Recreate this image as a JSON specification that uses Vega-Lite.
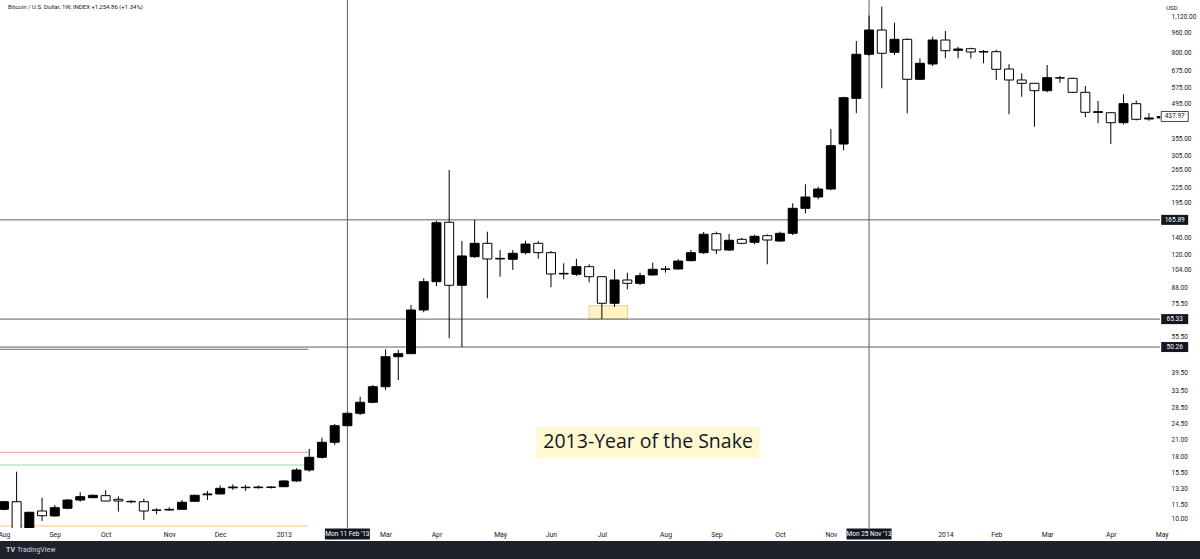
{
  "$schema": "https://vega.github.io/schema/vega-lite/v6.json",
  "width": 1200,
  "height": 559,
  "autosize": {"type": "none"},
  "padding": 0,
  "background": "#ffffff",
  "config": {"view": {"stroke": null}},
  "datasets": {
    "candles": [
      {"d":"2012-08-06","o":10.95,"h":11.85,"l":10.85,"c":11.76},
      {"d":"2012-08-13","o":11.76,"h":15.59,"l":7.9,"c":8.8},
      {"d":"2012-08-20","o":8.8,"h":10.7,"l":8.5,"c":10.65},
      {"d":"2012-08-27","o":10.78,"h":12.21,"l":9.81,"c":10.31},
      {"d":"2012-09-03","o":10.29,"h":11.41,"l":10.22,"c":11.12},
      {"d":"2012-09-10","o":11.06,"h":12.06,"l":10.95,"c":11.95},
      {"d":"2012-09-17","o":11.95,"h":12.85,"l":11.76,"c":12.33},
      {"d":"2012-09-24","o":12.21,"h":12.59,"l":12.18,"c":12.49},
      {"d":"2012-10-01","o":12.45,"h":13.09,"l":11.82,"c":11.84},
      {"d":"2012-10-08","o":12.03,"h":12.38,"l":10.71,"c":11.84},
      {"d":"2012-10-15","o":11.80,"h":11.95,"l":11.59,"c":11.75},
      {"d":"2012-10-22","o":11.76,"h":12.10,"l":9.91,"c":10.78},
      {"d":"2012-10-29","o":10.85,"h":11.06,"l":10.45,"c":10.88},
      {"d":"2012-11-05","o":10.88,"h":11.16,"l":10.78,"c":10.95},
      {"d":"2012-11-12","o":10.95,"h":11.95,"l":10.93,"c":11.70},
      {"d":"2012-11-19","o":11.81,"h":12.56,"l":11.73,"c":12.49},
      {"d":"2012-11-26","o":12.55,"h":13.01,"l":11.95,"c":12.65},
      {"d":"2012-12-03","o":12.65,"h":13.72,"l":12.60,"c":13.34},
      {"d":"2012-12-10","o":13.40,"h":13.85,"l":13.13,"c":13.50},
      {"d":"2012-12-17","o":13.47,"h":13.76,"l":13.01,"c":13.42},
      {"d":"2012-12-24","o":13.42,"h":13.70,"l":13.30,"c":13.50},
      {"d":"2012-12-31","o":13.50,"h":13.62,"l":13.30,"c":13.45},
      {"d":"2013-01-07","o":13.54,"h":14.42,"l":13.50,"c":14.29},
      {"d":"2013-01-14","o":14.29,"h":16.10,"l":14.20,"c":15.84},
      {"d":"2013-01-21","o":15.84,"h":19.30,"l":15.59,"c":17.85},
      {"d":"2013-01-28","o":17.85,"h":21.46,"l":17.65,"c":20.55},
      {"d":"2013-02-04","o":20.55,"h":24.40,"l":20.03,"c":24.01},
      {"d":"2013-02-11","o":24.01,"h":27.23,"l":23.93,"c":26.98},
      {"d":"2013-02-18","o":26.98,"h":31.53,"l":26.55,"c":29.92},
      {"d":"2013-02-25","o":29.92,"h":35.19,"l":29.64,"c":34.63},
      {"d":"2013-03-04","o":34.63,"h":49.20,"l":33.58,"c":45.90},
      {"d":"2013-03-11","o":45.90,"h":48.90,"l":36.89,"c":47.22},
      {"d":"2013-03-18","o":47.22,"h":74.60,"l":47.10,"c":71.16},
      {"d":"2013-03-25","o":71.16,"h":95.84,"l":69.64,"c":92.83},
      {"d":"2013-04-01","o":92.83,"h":164.6,"l":89.0,"c":161.5},
      {"d":"2013-04-08","o":162.2,"h":264.9,"l":54.56,"c":89.76},
      {"d":"2013-04-15","o":89.76,"h":136.0,"l":50.26,"c":118.2},
      {"d":"2013-04-22","o":117.4,"h":165.89,"l":116.0,"c":133.1},
      {"d":"2013-04-29","o":133.1,"h":148.5,"l":79.43,"c":114.9},
      {"d":"2013-05-06","o":114.9,"h":125.0,"l":97.29,"c":115.6},
      {"d":"2013-05-13","o":114.6,"h":125.0,"l":103.6,"c":121.2},
      {"d":"2013-05-20","o":121.9,"h":136.4,"l":120.0,"c":132.2},
      {"d":"2013-05-27","o":133.1,"h":136.0,"l":115.2,"c":121.9},
      {"d":"2013-06-03","o":121.9,"h":123.8,"l":88.08,"c":99.79},
      {"d":"2013-06-10","o":99.8,"h":110.3,"l":94.95,"c":100.4},
      {"d":"2013-06-17","o":99.5,"h":115.0,"l":98.0,"c":106.9},
      {"d":"2013-06-24","o":106.9,"h":109.3,"l":92.30,"c":97.29},
      {"d":"2013-07-01","o":97.29,"h":97.5,"l":65.33,"c":75.79},
      {"d":"2013-07-08","o":75.79,"h":104.3,"l":73.40,"c":94.32},
      {"d":"2013-07-15","o":94.32,"h":101.0,"l":86.44,"c":91.44},
      {"d":"2013-07-22","o":91.44,"h":101.0,"l":90.0,"c":98.2},
      {"d":"2013-07-29","o":98.86,"h":110.96,"l":98.2,"c":104.3},
      {"d":"2013-08-05","o":104.3,"h":107.6,"l":101.0,"c":104.6},
      {"d":"2013-08-12","o":104.6,"h":114.6,"l":104.0,"c":112.7},
      {"d":"2013-08-19","o":113.1,"h":125.0,"l":112.3,"c":121.9},
      {"d":"2013-08-26","o":121.9,"h":148.0,"l":120.4,"c":144.9},
      {"d":"2013-09-02","o":145.7,"h":148.5,"l":120.4,"c":125.0},
      {"d":"2013-09-09","o":125.0,"h":145.3,"l":123.8,"c":136.96},
      {"d":"2013-09-16","o":138.2,"h":140.3,"l":131.9,"c":133.1},
      {"d":"2013-09-23","o":134.4,"h":144.3,"l":131.9,"c":142.2},
      {"d":"2013-09-30","o":143.0,"h":144.9,"l":109.3,"c":137.3},
      {"d":"2013-10-07","o":136.0,"h":148.5,"l":135.0,"c":146.2},
      {"d":"2013-10-14","o":146.2,"h":193.8,"l":143.9,"c":184.9},
      {"d":"2013-10-21","o":184.9,"h":231.7,"l":176.4,"c":205.6},
      {"d":"2013-10-28","o":205.6,"h":226.5,"l":201.2,"c":221.6},
      {"d":"2013-11-04","o":221.6,"h":389.5,"l":219.1,"c":332.9},
      {"d":"2013-11-11","o":338.2,"h":527.3,"l":318.7,"c":522.4},
      {"d":"2013-11-18","o":519.4,"h":889.6,"l":451.3,"c":785.3},
      {"d":"2013-11-25","o":785.3,"h":1130,"l":775,"c":986.4},
      {"d":"2013-12-02","o":986.4,"h":1228,"l":570.6,"c":792.7},
      {"d":"2013-12-09","o":800.1,"h":1056,"l":780.0,"c":903.9},
      {"d":"2013-12-16","o":903.9,"h":912.4,"l":451.3,"c":621.0},
      {"d":"2013-12-23","o":621.0,"h":756.3,"l":616.9,"c":721.7},
      {"d":"2013-12-30","o":716.9,"h":926.3,"l":703.5,"c":898.0},
      {"d":"2014-01-06","o":898.0,"h":977.2,"l":756.3,"c":812.2},
      {"d":"2014-01-13","o":815.2,"h":843.2,"l":756.3,"c":825.3},
      {"d":"2014-01-20","o":827.7,"h":835.5,"l":756.3,"c":802.3},
      {"d":"2014-01-27","o":806.0,"h":817.6,"l":721.7,"c":802.0},
      {"d":"2014-02-03","o":804.6,"h":817.6,"l":616.9,"c":682.1},
      {"d":"2014-02-10","o":684.0,"h":714.9,"l":447.0,"c":616.9},
      {"d":"2014-02-17","o":616.9,"h":656.9,"l":527.3,"c":598.1},
      {"d":"2014-02-24","o":598.1,"h":600.0,"l":397.9,"c":558.0},
      {"d":"2014-03-03","o":558.0,"h":710.2,"l":549.6,"c":630.4},
      {"d":"2014-03-10","o":630.0,"h":640.5,"l":601.5,"c":628.0},
      {"d":"2014-03-17","o":626.8,"h":630.0,"l":546.0,"c":549.6},
      {"d":"2014-03-24","o":549.6,"h":583.1,"l":434.6,"c":455.5},
      {"d":"2014-03-31","o":455.0,"h":506.5,"l":410.8,"c":458.1},
      {"d":"2014-04-07","o":453.7,"h":455.0,"l":338.2,"c":413.1},
      {"d":"2014-04-14","o":413.1,"h":539.4,"l":406.9,"c":493.9},
      {"d":"2014-04-21","o":493.9,"h":509.0,"l":422.0,"c":426.5},
      {"d":"2014-04-28","o":427.7,"h":451.3,"l":420.9,"c":431.7},
      {"d":"2014-05-05","o":431.7,"h":440.0,"l":430.0,"c":437.97}
    ]
  },
  "layer": [
    {
      "data": {"values": [{"d1": "2013-06-24T00:00:00Z", "d2": "2013-07-15T04:00:00Z", "lo": 65.33, "hi": 74.1}]},
      "mark": {"type": "rect", "fill": "#fff3c4", "stroke": "#e3cf8f", "strokeWidth": 1, "clip": true},
      "encoding": {
        "x": {"field": "d1", "type": "temporal", "title": null},
        "x2": {"field": "d2"},
        "y": {"field": "lo", "type": "quantitative", "title": null},
        "y2": {"field": "hi"}
      }
    },
    {
      "data": {"values": [{"d": "2013-07-26T10:00:00Z", "v": 20.51, "t": "2013-Year of the Snake"}]},
      "mark": {"type": "point", "shape": "M-7.194,-1H7.194V1H-7.194Z", "size": 961, "filled": true, "fill": "#fff9d2", "opacity": 1, "strokeWidth": 0},
      "encoding": {
        "x": {"field": "d", "type": "temporal", "title": null},
        "y": {"field": "v", "type": "quantitative", "title": null}
      }
    },
    {
      "data": {"values": [{"lvl": 18.71}]},
      "mark": {"type": "rule", "color": "#ef9a9a", "strokeWidth": 1, "clip": true},
      "encoding": {
        "x": {"datum": {"year": 2012, "month": 8, "date": 1, "utc": true}, "type": "temporal", "title": null},
        "x2": {"datum": {"year": 2013, "month": 1, "date": 20, "hours": 14, "utc": true}},
        "y": {"field": "lvl", "type": "quantitative", "title": null}
      }
    },
    {
      "data": {"values": [{"lvl": 16.6}]},
      "mark": {"type": "rule", "color": "#a5d6a7", "strokeWidth": 1, "clip": true},
      "encoding": {
        "x": {"datum": {"year": 2012, "month": 8, "date": 1, "utc": true}, "type": "temporal", "title": null},
        "x2": {"datum": {"year": 2013, "month": 1, "date": 20, "hours": 14, "utc": true}},
        "y": {"field": "lvl", "type": "quantitative", "title": null}
      }
    },
    {
      "data": {"values": [{"lvl": 9.364}]},
      "mark": {"type": "rule", "color": "#ffcc80", "strokeWidth": 1, "clip": true},
      "encoding": {
        "x": {"datum": {"year": 2012, "month": 8, "date": 1, "utc": true}, "type": "temporal", "title": null},
        "x2": {"datum": {"year": 2013, "month": 1, "date": 20, "hours": 14, "utc": true}},
        "y": {"field": "lvl", "type": "quantitative", "title": null}
      }
    },
    {
      "data": {"values": [{"lvl": 49.2}]},
      "mark": {"type": "rule", "color": "#6b6e78", "strokeWidth": 1, "clip": true},
      "encoding": {
        "x": {"datum": {"year": 2012, "month": 8, "date": 1, "utc": true}, "type": "temporal", "title": null},
        "x2": {"datum": {"year": 2013, "month": 1, "date": 20, "hours": 14, "utc": true}},
        "y": {"field": "lvl", "type": "quantitative", "title": null}
      }
    },
    {
      "data": {"values": [{"lvl": 165.89}, {"lvl": 65.33}, {"lvl": 50.26}]},
      "mark": {"type": "rule", "color": "#5d606b", "strokeWidth": 1, "clip": true},
      "encoding": {
        "x": {"datum": {"year": 2012, "month": 8, "date": 1, "utc": true}, "type": "temporal", "title": null},
        "x2": {"datum": {"year": 2014, "month": 5, "date": 4, "hours": 5, "utc": true}},
        "y": {"field": "lvl", "type": "quantitative", "title": null}
      }
    },
    {
      "data": {"values": [{"d": "2013-02-11"}, {"d": "2013-11-25"}]},
      "mark": {"type": "rule", "color": "#5d606b", "strokeWidth": 1, "clip": true},
      "encoding": {
        "x": {"field": "d", "type": "temporal", "title": null},
        "y": {"datum": 9.19, "type": "quantitative", "title": null},
        "y2": {"datum": 1400}
      }
    },
    {
      "data": {"name": "candles"},
      "mark": {"type": "rule", "color": "#000000", "strokeWidth": 1, "clip": true},
      "encoding": {
        "x": {"field": "d", "type": "temporal", "title": null},
        "y": {"field": "l", "type": "quantitative", "title": null},
        "y2": {"field": "h"}
      }
    },
    {
      "data": {"name": "candles"},
      "mark": {"type": "bar", "width": 9, "stroke": "#000000", "strokeWidth": 1, "clip": true},
      "encoding": {
        "x": {
          "field": "d", "type": "temporal", "title": null,
          "scale": {"type": "utc", "domain": [
            {"year": 2012, "month": 8, "date": 6, "hours": 14, "minutes": 48, "utc": true},
            {"year": 2014, "month": 5, "date": 23, "hours": 8, "utc": true}
          ]},
          "axis": {
            "orient": "bottom", "offset": -30, "domain": false, "ticks": false, "grid": false,
            "labelFlush": false, "labelOverlap": false, "labelPadding": 2, "labelBaseline": "top",
            "labelFont": "Roboto", "labelFontSize": 6.8, "labelColor": "#131722", "zindex": 1,
            "labelExpr": "utcFormat(datum.value, '%m') === '01' ? utcFormat(datum.value, '%Y') : utcFormat(datum.value, '%b')",
            "values": [
              {"year": 2012, "month": 8, "date": 6, "utc": true},
              {"year": 2012, "month": 9, "date": 3, "utc": true},
              {"year": 2012, "month": 10, "date": 1, "utc": true},
              {"year": 2012, "month": 11, "date": 5, "utc": true},
              {"year": 2012, "month": 12, "date": 3, "utc": true},
              {"year": 2013, "month": 1, "date": 7, "utc": true},
              {"year": 2013, "month": 3, "date": 4, "utc": true},
              {"year": 2013, "month": 4, "date": 1, "utc": true},
              {"year": 2013, "month": 5, "date": 6, "utc": true},
              {"year": 2013, "month": 6, "date": 3, "utc": true},
              {"year": 2013, "month": 7, "date": 1, "utc": true},
              {"year": 2013, "month": 8, "date": 5, "utc": true},
              {"year": 2013, "month": 9, "date": 2, "utc": true},
              {"year": 2013, "month": 10, "date": 7, "utc": true},
              {"year": 2013, "month": 11, "date": 4, "utc": true},
              {"year": 2014, "month": 1, "date": 6, "utc": true},
              {"year": 2014, "month": 2, "date": 3, "utc": true},
              {"year": 2014, "month": 3, "date": 3, "utc": true},
              {"year": 2014, "month": 4, "date": 7, "utc": true},
              {"year": 2014, "month": 5, "date": 5, "utc": true}
            ]
          }
        },
        "y": {
          "field": "o", "type": "quantitative", "title": null,
          "scale": {"type": "log", "domain": [6.868, 1307.5], "nice": false, "zero": false},
          "axis": {
            "orient": "right", "offset": -35, "domain": false, "ticks": false, "grid": false,
            "labelFlush": false, "labelOverlap": false, "labelPadding": 6, "labelBaseline": "middle",
            "labelFont": "Roboto", "labelFontSize": 6.5, "labelColor": "#131722", "zindex": 1,
            "format": ",.2f",
            "values": [10, 11.5, 13.3, 15.5, 18, 21, 24.5, 28.5, 33.5, 39.5, 55.5, 75.5, 88, 104, 120, 140, 195, 225, 265, 305, 355, 495, 575, 675, 800, 960, 1120]
          }
        },
        "y2": {"field": "c"},
        "fill": {"condition": {"test": "datum.c >= datum.o", "value": "#000000"}, "value": "#ffffff"}
      }
    },
    {
      "data": {"values": [{"from": "2014-05-04T05:00:00Z", "to": "2014-07-01T00:00:00Z"}]},
      "mark": {"type": "rect", "fill": "#ffffff", "clip": true},
      "encoding": {
        "x": {"field": "from", "type": "temporal", "title": null},
        "x2": {"field": "to"}
      }
    },
    {
      "data": {"values": [{"lo": 5, "hi": 9.19}]},
      "mark": {"type": "rect", "fill": "#ffffff", "clip": true},
      "encoding": {
        "y": {"field": "lo", "type": "quantitative", "title": null},
        "y2": {"field": "hi"}
      }
    },
    {
      "data": {"values": [{"lo": 5, "hi": 8.134}]},
      "mark": {"type": "rect", "fill": "#1e222d", "clip": true},
      "encoding": {
        "y": {"field": "lo", "type": "quantitative", "title": null},
        "y2": {"field": "hi"}
      }
    },
    {
      "data": {"values": [{"v": 165.89, "t": "165.89"}, {"v": 65.33, "t": "65.33"}, {"v": 50.26, "t": "50.26"}]},
      "layer": [
        {
          "mark": {"type": "point", "shape": "M-2.7,-1H2.7V1H-2.7Z", "size": 100, "filled": true, "fill": "#131722", "opacity": 1, "strokeWidth": 0},
          "encoding": {
            "x": {"datum": {"year": 2014, "month": 5, "date": 12, "hours": 4, "utc": true}, "type": "temporal", "title": null},
            "y": {"field": "v", "type": "quantitative", "title": null}
          }
        },
        {
          "mark": {"type": "text", "color": "#ffffff", "font": "Roboto", "fontSize": 6.5, "align": "center", "baseline": "middle"},
          "encoding": {
            "x": {"datum": {"year": 2014, "month": 5, "date": 12, "hours": 4, "utc": true}, "type": "temporal", "title": null},
            "y": {"field": "v", "type": "quantitative", "title": null},
            "text": {"field": "t"}
          }
        }
      ]
    },
    {
      "data": {"values": [{"v": 437.97, "t": "437.97"}]},
      "layer": [
        {
          "mark": {"type": "point", "shape": "M-2.7,-1H2.7V1H-2.7Z", "size": 100, "filled": true, "fill": "#ffffff", "stroke": "#131722", "strokeWidth": 0.8, "opacity": 1},
          "encoding": {
            "x": {"datum": {"year": 2014, "month": 5, "date": 12, "hours": 4, "utc": true}, "type": "temporal", "title": null},
            "y": {"field": "v", "type": "quantitative", "title": null}
          }
        },
        {
          "mark": {"type": "text", "color": "#131722", "font": "Roboto", "fontSize": 6.5, "align": "center", "baseline": "middle"},
          "encoding": {
            "x": {"datum": {"year": 2014, "month": 5, "date": 12, "hours": 4, "utc": true}, "type": "temporal", "title": null},
            "y": {"field": "v", "type": "quantitative", "title": null},
            "text": {"field": "t"}
          }
        }
      ]
    },
    {
      "data": {"values": [{"d": "2013-02-11", "t": "Mon 11 Feb '13"}, {"d": "2013-11-25", "t": "Mon 25 Nov '13"}]},
      "layer": [
        {
          "mark": {"type": "point", "shape": "M-4.09,-1H4.09V1H-4.09Z", "size": 121, "filled": true, "fill": "#131722", "opacity": 1, "strokeWidth": 0},
          "encoding": {
            "x": {"field": "d", "type": "temporal", "title": null},
            "y": {"datum": 8.69, "type": "quantitative", "title": null}
          }
        },
        {
          "mark": {"type": "text", "color": "#ffffff", "font": "Roboto", "fontSize": 6.5, "align": "center", "baseline": "middle"},
          "encoding": {
            "x": {"field": "d", "type": "temporal", "title": null},
            "y": {"datum": 8.69, "type": "quantitative", "title": null},
            "text": {"field": "t"}
          }
        }
      ]
    },
    {
      "data": {"values": [{"d": "2013-07-26T10:00:00Z", "v": 20.51, "t": "2013-Year of the Snake"}]},
      "mark": {"type": "text", "color": "#131722", "font": "Open Sans", "fontSize": 19.5, "align": "center", "baseline": "middle"},
      "encoding": {
        "x": {"field": "d", "type": "temporal", "title": null},
        "y": {"field": "v", "type": "quantitative", "title": null},
        "text": {"field": "t"}
      }
    },
    {
      "data": {"values": [
        {"d": "2012-08-08T06:00:00Z", "v": 1224, "t": "Bitcoin / U.S. Dollar, 1W, INDEX  +1,254.86 (+1.34%)"},
        {"d": "2014-05-07T12:00:00Z", "v": 1213, "t": "USD"}
      ]},
      "mark": {"type": "text", "color": "#131722", "font": "Roboto", "fontSize": 6, "align": "left", "baseline": "middle"},
      "encoding": {
        "x": {"field": "d", "type": "temporal", "title": null},
        "y": {"field": "v", "type": "quantitative", "title": null},
        "text": {"field": "t"}
      }
    },
    {
      "data": {"values": [{"d": "2012-08-13T04:00:00Z", "v": 7.475, "t": "TradingView"}]},
      "mark": {"type": "text", "color": "#d1d4dc", "font": "Roboto", "fontSize": 7, "align": "left", "baseline": "middle"},
      "encoding": {
        "x": {"field": "d", "type": "temporal", "title": null},
        "y": {"field": "v", "type": "quantitative", "title": null},
        "text": {"field": "t"}
      }
    },
    {
      "data": {"values": [{"d": "2012-08-07T04:00:00Z", "v": 7.475, "t": "TV"}]},
      "mark": {"type": "text", "color": "#d1d4dc", "font": "Roboto", "fontSize": 7, "fontWeight": "bold", "align": "left", "baseline": "middle"},
      "encoding": {
        "x": {"field": "d", "type": "temporal", "title": null},
        "y": {"field": "v", "type": "quantitative", "title": null},
        "text": {"field": "t"}
      }
    }
  ]
}
